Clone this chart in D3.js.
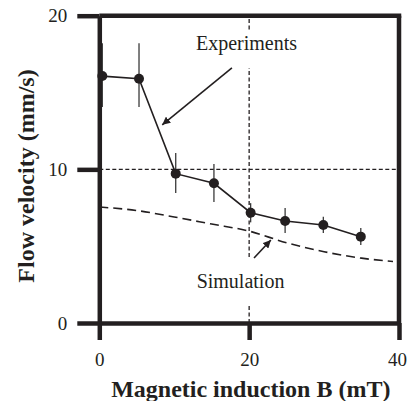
<!DOCTYPE html>
<html>
<head>
<meta charset="utf-8">
<script src="https://cdn.jsdelivr.net/npm/d3@7"></script>
<style>
  html, body { margin: 0; padding: 0; background: #fff; }
  svg text { font-family: "Liberation Serif", "Times New Roman", Times, "DejaVu Serif", serif; fill: #231f20; }
</style>
</head>
<body>
<div id="chart"></div>
<script>
// Flow velocity vs magnetic induction, experiments and simulation

const expB = [0.4, 5.3, 10.2, 15.3, 20.2, 24.8, 29.9, 34.9];
const expV = [16.07, 15.9, 9.72, 9.09, 7.18, 6.64, 6.38, 5.62];
const expHi = [18.2, 18.2, 11.06, 10.35, 7.8, 7.48, 6.92, 6.18];
const expLo = [14.05, 14.05, 8.46, 7.88, 6.55, 5.86, 5.86, 5.07];

const simB = [0, 5, 10, 15, 20, 25, 30, 35, 39.2];
const simV = [7.55, 7.32, 6.9, 6.44, 5.98, 5.22, 4.64, 4.22, 4.0];

const xTicks = [0, 20, 40];
const yTicks = [0, 10, 20];

// dashed reference lines, vertical one broken around the labels
const refV = 10;
const refB = 20;
const refBSegments = [[19.1, 20], [4.3, 16.6], [0, 1.2]];

const labels = [
  {text: "Experiments", b: 19.65, v: 17.76, from: [17.7, 16.6], to: [8.4, 12.9]},
  {text: "Simulation", b: 18.85, v: 2.28, from: [20.65, 4.23], to: [22.9, 5.4]}
];

const W = 407, H = 401;
const ink = "#231f20";
const serif = "'Liberation Serif', 'Times New Roman', Times, 'DejaVu Serif', serif";

const x = d3.scaleLinear().domain([0, 40]).range([99.3, 399]);
const y = d3.scaleLinear().domain([0, 20]).range([323, 15.7]);

const svg = d3.select("#chart").append("svg")
  .attr("width", W).attr("height", H);

svg.append("defs").append("marker")
  .attr("id", "head")
  .attr("viewBox", "0 0 10 10")
  .attr("refX", 10).attr("refY", 5)
  .attr("markerWidth", 8).attr("markerHeight", 8)
  .attr("markerUnits", "userSpaceOnUse")
  .attr("orient", "auto")
  .append("path").attr("d", "M0,0 L10,5 L0,10 Z").attr("fill", ink);

// reference dashed lines
svg.append("line")
  .attr("x1", x(0)).attr("x2", x(40))
  .attr("y1", y(refV)).attr("y2", y(refV))
  .attr("stroke", ink).attr("stroke-width", 1.3).attr("stroke-dasharray", "4,2.5");

svg.selectAll(".vref").data(refBSegments).join("line")
  .attr("class", "vref")
  .attr("x1", x(refB)).attr("x2", x(refB))
  .attr("y1", d => y(d[0])).attr("y2", d => y(d[1]))
  .attr("stroke", ink).attr("stroke-width", 1.3).attr("stroke-dasharray", "4,2.5");

// simulation curve
const simLine = d3.line().curve(d3.curveMonotoneX)
  .x((d, i) => x(simB[i])).y(d => y(d));
svg.append("path").datum(simV)
  .attr("d", simLine)
  .attr("fill", "none").attr("stroke", ink)
  .attr("stroke-width", 1.6).attr("stroke-dasharray", "9,5");

// error bars
svg.selectAll(".err").data(expB).join("line")
  .attr("class", "err")
  .attr("x1", d => x(d)).attr("x2", d => x(d))
  .attr("y1", (d, i) => y(expHi[i])).attr("y2", (d, i) => y(expLo[i]))
  .attr("stroke", "#3a3a3a").attr("stroke-width", 1.3);

// experiment line and points
const expLine = d3.line().x((d, i) => x(expB[i])).y(d => y(d));
svg.append("path").datum(expV)
  .attr("d", expLine)
  .attr("fill", "none").attr("stroke", ink).attr("stroke-width", 1.6);

svg.selectAll(".pt").data(expB).join("circle")
  .attr("class", "pt")
  .attr("cx", d => x(d)).attr("cy", (d, i) => y(expV[i]))
  .attr("r", 5).attr("fill", ink);

// annotations
labels.forEach(l => {
  svg.append("text")
    .attr("x", x(l.b)).attr("y", y(l.v))
    .attr("text-anchor", "middle")
    .attr("font-family", serif)
    .attr("font-size", 20)
    .text(l.text);
  svg.append("line")
    .attr("x1", x(l.from[0])).attr("y1", y(l.from[1]))
    .attr("x2", x(l.to[0])).attr("y2", y(l.to[1]))
    .attr("stroke", ink).attr("stroke-width", 1.6)
    .attr("marker-end", "url(#head)");
});

// axes
const frameW = 4.5;
const xAxis = svg.append("g")
  .attr("transform", `translate(0,${y(0)})`)
  .call(d3.axisBottom(x).tickValues(xTicks).tickSize(17).tickSizeOuter(0).tickPadding(10));
const yAxis = svg.append("g")
  .attr("transform", `translate(${x(0)},0)`)
  .call(d3.axisLeft(y).tickValues(yTicks).tickSize(22).tickSizeOuter(0).tickPadding(10));

[xAxis, yAxis].forEach(g => {
  g.attr("font-family", serif);
  g.select(".domain").attr("stroke", ink).attr("stroke-width", frameW);
  g.selectAll(".tick line").attr("stroke", ink).attr("stroke-width", frameW);
  g.selectAll(".tick text")
    .attr("font-family", serif)
    .attr("font-size", 19).attr("fill", ink);
});
xAxis.selectAll(".tick text").attr("dy", "0.85em");
// last label sits at the page edge, keep it inside
xAxis.selectAll(".tick text").filter(d => d === 40).attr("dx", -2);

// top and right frame
svg.append("line")
  .attr("x1", x(0)).attr("x2", x(40) + frameW / 2)
  .attr("y1", y(20)).attr("y2", y(20))
  .attr("stroke", ink).attr("stroke-width", frameW);
svg.append("line")
  .attr("x1", x(40)).attr("x2", x(40))
  .attr("y1", y(20)).attr("y2", y(0))
  .attr("stroke", ink).attr("stroke-width", frameW);

// axis titles
svg.append("text")
  .attr("x", 250.8).attr("y", 396.5)
  .attr("text-anchor", "middle")
  .attr("font-family", serif)
  .attr("font-size", 24).attr("font-weight", "bold")
  .text("Magnetic induction B (mT)");

svg.append("text")
  .attr("transform", "translate(33.5,176) rotate(-90)")
  .attr("text-anchor", "middle")
  .attr("font-family", serif)
  .attr("font-size", 24).attr("font-weight", "bold")
  .text("Flow velocity (mm/s)");
</script>
</body>
</html>
